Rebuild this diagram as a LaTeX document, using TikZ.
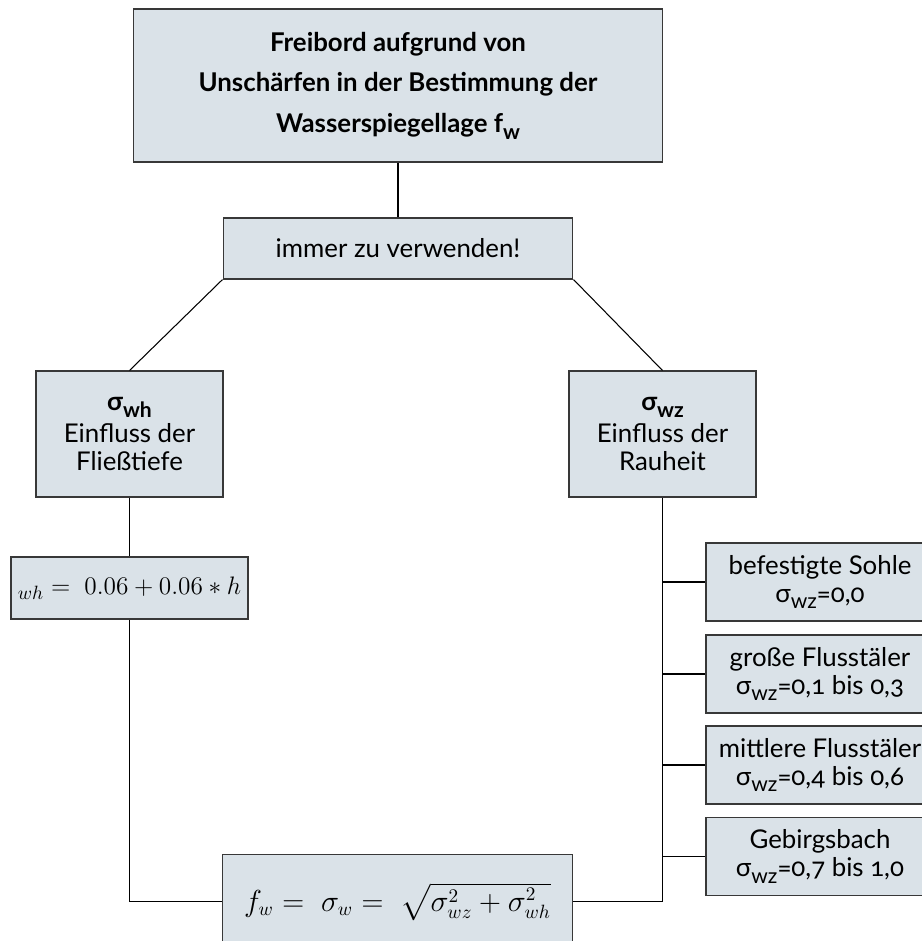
\documentclass[tikz,border=0pt]{standalone}
\usepackage{fontspec}
\setmainfont[Numbers=OldStyle]{Lato}
\usepackage{amsmath}
\usetikzlibrary{positioning,calc}
\definecolor{kastenfill}{HTML}{DAE2E8}
\definecolor{kastenrand}{HTML}{383838}
\newcommand{\tiefsub}[1]{\raisebox{-0.5ex}{\fontsize{12}{12}\selectfont #1}}

\begin{document}
\begin{tikzpicture}[x=0.02cm, y=-0.02cm,
        every node/.style={font=\fontsize{14.7}{16}\selectfont},
        kasten/.style={draw=kastenrand, fill=kastenfill, line width=0.6pt, align=center, inner sep=2pt},
        verbindung/.style={line width=0.6pt, black},
        stamm/.style={line width=1.2pt, black},
        formel/.style={font=\fontsize{16.2}{19}\selectfont}
      ]
        % feste Bounding-Box (Bildformat)
        \useasboundingbox (0,0) rectangle (922,941);

        % Hauptkasten
        \node[kasten, minimum width=10.6cm, minimum height=3.06cm,
              font=\fontsize{14.7}{23.2}\selectfont\bfseries] (titel) at (398,85.5)
              {Freibord aufgrund von\\Unschärfen in der Bestimmung der\\Wasserspiegellage f\tiefsub{w}};
        \node[kasten, minimum width=7cm, minimum height=1.22cm] (immer) at (398,248.5) {immer zu verwenden!};

        % Einflussgrößen
        \node[kasten, minimum width=3.74cm, minimum height=2.52cm] (links) at (129.5,434)
              {{\bfseries σ\tiefsub{wh}}\\[2pt]Einfluss der\\Fließtiefe};
        \node[kasten, minimum width=3.74cm, minimum height=2.52cm] (rechts) at (662.5,434)
              {{\bfseries σ\tiefsub{wz}}\\[2pt]Einfluss der\\Rauheit};

        % Formeln
        \node[kasten, font=\fontsize{15.4}{18}\selectfont, minimum width=4.74cm, minimum height=1.24cm] (whformel) at (129.5,588)
              {${}_{wh} =\; 0.06 + 0.06 * h$};
        \node[kasten, formel, anchor=north, minimum width=7.02cm, minimum height=1.88cm] (fw) at (397.5,854)
              {$f_w =\; \sigma_w =\; \sqrt{\sigma_{wz}^2 + \sigma_{wh}^2}$};

        % Rauheitsklassen
        \foreach \yy/\name/\txt in {582/sohle/{befestigte Sohle\\σ\tiefsub{wz}=0,0},
                                  674/gross/{große Flusstäler\\σ\tiefsub{wz}=0,1 bis 0,3},
                                  765/mittel/{mittlere Flusstäler\\σ\tiefsub{wz}=0,4 bis 0,6},
                                  856.5/gebirge/{Gebirgsbach\\σ\tiefsub{wz}=0,7 bis 1,0}} {%
          \node[kasten, minimum width=4.56cm, minimum height=1.56cm] (\name) at (820,\yy) {\txt};
          \draw[verbindung] (rechts.south |- \name.west) -- (\name.west);
        }

        % Verbindungen
        \draw[stamm] (titel) -- (immer);
        \draw[verbindung] (immer.south west) -- (links.north);
        \draw[verbindung] (immer.south east) -- (rechts.north);
        \draw[verbindung] (links) -- (whformel);
        \draw[verbindung] (whformel.south) |- (fw.west);
        \draw[verbindung] (rechts.south) |- (fw.east);
      \end{tikzpicture}
\end{document}
